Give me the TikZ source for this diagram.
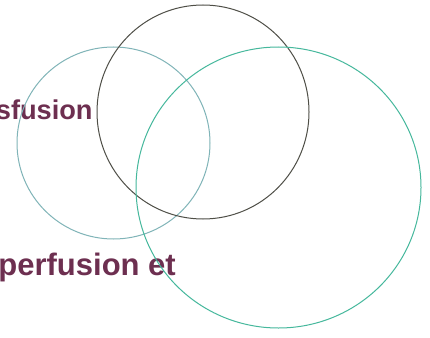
\documentclass[tikz,border=0pt]{standalone}
\usepackage{fontspec}
\setmainfont{Liberation Sans}
\definecolor{labelc}{HTML}{6D2F50}
\definecolor{circA}{HTML}{80B4B8}
\definecolor{circB}{HTML}{4F4F47}
\definecolor{circC}{HTML}{45B89C}
\tikzset{
  ring/.style={line width=1pt},
  lbl/.style={font=\bfseries, text=labelc, inner sep=0pt, anchor=base east}
}
\begin{document}
\begin{tikzpicture}[x=1pt,y=-1pt]
\useasboundingbox (0,0) rectangle (430,337);
\clip (0,0) rectangle (430,337);
\fill[white] (0,0) rectangle (430,337);
\node[lbl, font=\bfseries\fontsize{27.2}{30}\selectfont] (t1) at (92.8,119.3) {sfusion};
\node[lbl, font=\bfseries\fontsize{31}{34}\selectfont] (t2) at (176,275.5) {perfusion et};
\draw[ring, circA] (113.5,143) ellipse [x radius=96.5pt, y radius=96pt];
\draw[ring, circB] (203,112) ellipse [x radius=106pt, y radius=107pt];
\draw[ring, circC] (278.5,187.5) ellipse [x radius=142.5pt, y radius=140.5pt];
\end{tikzpicture}
\end{document}
